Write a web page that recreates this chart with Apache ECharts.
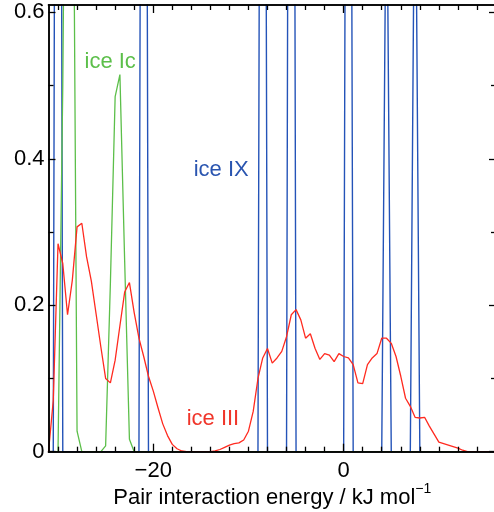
<!DOCTYPE html>
<html>
<head>
<meta charset="utf-8">
<script src="https://cdn.jsdelivr.net/npm/echarts@6/dist/echarts.min.js"></script>
<style>
html,body{margin:0;padding:0;background:#fff;}
#chart{width:494px;height:512px;}
</style>
</head>
<body>
<div id="chart"></div>
<script>
// ---- data (x: pair interaction energy in kJ/mol, y: probability density) ----
const iceIX = [[-31,0],[-30.5,0],[-30,2.65],[-29.5,0],[-21.5,0],[-21,2.5],[-20.5,0],
  [-9,0],[-8.5,2.4],[-8,0],[-6,0],[-5.5,2.65],[-5,0],[0,0],[0.5,2.2],[1,0],
  [4,0],[4.5,0.85],[5,0],[7,0],[7.5,0.9],[8,0],[16,0]];

const iceIc = [[-31,0],[-30,0],[-29.5,0.5],[-29,1.3],[-28.5,1.05],[-28,0.028],[-27.5,0],
  [-25.5,0],[-25,0.008],[-24.5,0.23],[-24,0.485],[-23.5,0.515],[-23,0.26],[-22.5,0.017],[-22,0],[16,0]];

const iceIII = [[-31,0],[-30.5,0.07],[-30,0.284],[-29.5,0.257],[-29,0.187],[-28.5,0.234],[-28,0.307],
  [-27.5,0.312],[-27,0.266],[-26.5,0.233],[-26,0.188],[-25.5,0.143],[-25,0.10],[-24.5,0.094],
  [-24,0.125],[-23.5,0.172],[-23,0.218],[-22.5,0.231],[-22,0.19],[-21.5,0.155],[-21,0.13],
  [-20.5,0.103],[-20,0.083],[-19.5,0.060],[-19,0.038],[-18.5,0.022],[-18,0.010],[-17.5,0.004],
  [-17,0.001],[-16.5,0],[-14,0],[-13.5,0.001],[-13,0.003],[-12.5,0.006],[-12,0.009],[-11.5,0.011],
  [-11,0.012],[-10.5,0.016],[-10,0.028],[-9.5,0.055],[-9,0.10],[-8.5,0.128],[-8,0.141],[-7.5,0.121],
  [-7,0.128],[-6.5,0.137],[-6,0.157],[-5.5,0.187],[-5,0.194],[-4.5,0.18],[-4,0.155],[-3.5,0.161],
  [-3,0.141],[-2.5,0.126],[-2,0.134],[-1.5,0.132],[-1,0.123],[-0.5,0.134],[0,0.130],[0.5,0.128],
  [1,0.119],[1.5,0.094],[2,0.093],[2.5,0.119],[3,0.128],[3.5,0.134],[4,0.155],[4.5,0.155],
  [5,0.148],[5.5,0.130],[6,0.103],[6.5,0.073],[7,0.062],[7.5,0.047],[8,0.046],[8.5,0.047],
  [9,0.035],[9.5,0.024],[10,0.013],[10.5,0.011],[11,0.009],[11.5,0.007],[12,0.005],[12.5,0.002],
  [13,0],[16,0]];

const xMinorTicks = [-30,-28,-26,-24,-22,-18,-16,-14,-12,-10,-8,-6,-4,-2,2,4,6,8,10,12,14,16];
const xMajorTicks = [-20,0];
const xTickLabels = [-20,0];
const yMajorTicks = [0,0.2,0.4,0.6];
const yMinorTicks = [0.1,0.3,0.5];
const yTickLabels = [0,0.2,0.4,0.6];

const xTitle = 'Pair interaction energy / kJ mol';
const xTitleSup = '\u22121';

const labels = [
  {text:'ice Ic', x:-24.52, y:0.532, color:'#5cbf4a'},
  {text:'ice IX', x:-12.86, y:0.385, color:'#2a55b0'},
  {text:'ice III', x:-13.73, y:0.0443, color:'#f0352a'}
];

// ---- chart ----
const FONT = 'Liberation Sans';
const XMIN = -31, XMAX = 16, YMIN = 0, YMAX = 0.61;
const chart = echarts.init(document.getElementById('chart'), null, {renderer:'canvas'});

function xAxisDef(pos, ticks, len, opts) {
  return Object.assign({
    type:'value', position:pos, min:XMIN, max:XMAX, z:5,
    axisLine:{show:true, onZero:false, lineStyle:{color:'#000', width:1.5}},
    axisTick:{show:true, inside:true, length:len, customValues:ticks, lineStyle:{color:'#000', width:1.3}},
    axisLabel:{show:false},
    splitLine:{show:false}
  }, opts || {});
}
function yAxisDef(pos, ticks, len, opts) {
  return Object.assign({
    type:'value', position:pos, min:YMIN, max:YMAX, z:5,
    axisLine:{show:true, onZero:false, lineStyle:{color:'#000', width:1.5}},
    axisTick:{show:true, inside:true, length:len, customValues:ticks, lineStyle:{color:'#000', width:1.3}},
    axisLabel:{show:false},
    splitLine:{show:false}
  }, opts || {});
}

const option = {
  animation:false,
  backgroundColor:'#fff',
  grid:{left:48.5, right:-2, top:5, bottom:60.3, containLabel:false, outerBoundsMode:'none'},
  xAxis:[
    xAxisDef('bottom', xMinorTicks, 5, {
      axisLabel:{show:true, customValues:xTickLabels, margin:8, fontFamily:FONT, fontSize:22, color:'#000',
        formatter:function(v){ return v < 0 ? '\u2212' + Math.abs(v) : String(v); }},
      name:'{t|' + xTitle + '}{s|' + xTitleSup + '}', nameLocation:'middle', nameGap:30,
      nameMoveOverlap:false,
      nameTextStyle:{rich:{
        t:{fontFamily:FONT, fontSize:22, color:'#000', lineHeight:27, verticalAlign:'bottom'},
        s:{fontFamily:FONT, fontSize:14, color:'#000', verticalAlign:'top', lineHeight:14}
      }}
    }),
    xAxisDef('bottom', xMajorTicks, 8),
    xAxisDef('top', xMinorTicks, 5),
    xAxisDef('top', xMajorTicks, 8)
  ],
  yAxis:[
    yAxisDef('left', yMajorTicks, 7, {
      axisLabel:{show:true, customValues:yTickLabels, margin:4, fontFamily:FONT, fontSize:22, color:'#000',
        formatter:function(v){ return v === 0 ? '0' : v.toFixed(1); }}
    }),
    yAxisDef('left', yMinorTicks, 5),
    yAxisDef('right', yMajorTicks, 7),
    yAxisDef('right', yMinorTicks, 5)
  ],
  series:[
    {name:'ice IX', type:'line', data:iceIX, showSymbol:false, symbol:'none', clip:true, z:2,
      lineStyle:{color:'#2453b8', width:1.4}},
    {name:'ice Ic', type:'line', data:iceIc, showSymbol:false, symbol:'none', clip:true, z:3,
      lineStyle:{color:'#5cbf4a', width:1.3}},
    {name:'ice III', type:'line', data:iceIII, showSymbol:false, symbol:'none', clip:true, z:4,
      lineStyle:{color:'#ff2a1f', width:1.3}}
  ]
};
chart.setOption(option);

const g = labels.map(function(l){
  const p = chart.convertToPixel({xAxisIndex:0, yAxisIndex:0}, [l.x, l.y]);
  return {type:'text', x:p[0], y:p[1], z:10,
    style:{text:l.text, fill:l.color, font:'22px "' + FONT + '"', textAlign:'center', textVerticalAlign:'middle'}};
});
chart.setOption({graphic:g});
</script>
</body>
</html>
